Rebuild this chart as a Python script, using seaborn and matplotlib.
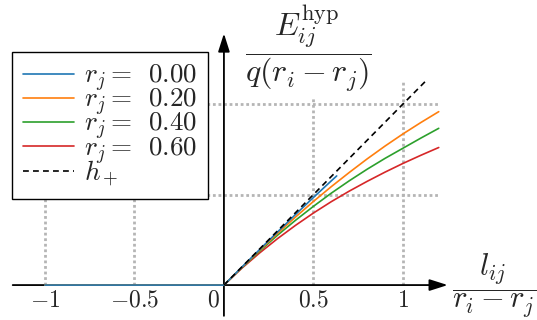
import numpy as np
import pandas as pd
import matplotlib
matplotlib.use("Agg")
import matplotlib.pyplot as plt
import seaborn as sns

# curve data: normalised energy vs normalised length, one curve per r_j
r_values = ["0.00", "0.20", "0.40", "0.60"]
x_blue = [-1.0, 0.0, 0.1, 0.2, 0.3, 0.4, 0.5, 0.6, 0.63]
y_blue = [0.0, 0.0, 0.099, 0.197, 0.294, 0.39, 0.484, 0.576, 0.603]
x_grid = [-1.0, 0.0, 0.1, 0.2, 0.3, 0.4, 0.5, 0.6, 0.7, 0.8, 0.9, 1.0, 1.1, 1.2]
y_orange = [0.0, 0.0, 0.097, 0.193, 0.286, 0.376, 0.462, 0.544, 0.622, 0.697,
            0.768, 0.835, 0.898, 0.958]
y_green = [0.0, 0.0, 0.096, 0.188, 0.276, 0.358, 0.435, 0.508, 0.576, 0.64,
           0.70, 0.756, 0.812, 0.866]
y_red = [0.0, 0.0, 0.093, 0.178, 0.257, 0.330, 0.398, 0.461, 0.519, 0.573,
         0.624, 0.672, 0.717, 0.760]
h_plus_x = [0.0, 1.13]
h_plus_y = [0.0, 1.13]

xtick_vals = [-1, -0.5, 0, 0.5, 1]
xtick_labels = [r"$-1$", r"$-0.5$", r"$0$", r"$0.5$", r"$1$"]

sns.set_style("white")
plt.rcParams["mathtext.fontset"] = "cm"
plt.rcParams["font.family"] = ["DejaVu Serif"]

fig = plt.figure(figsize=(5.37, 3.2), dpi=100)
ax = fig.add_axes([0, 0, 1, 1])
ax.set_xlim(-1.251, 1.749)
ax.set_ylim(-0.193, 1.575)
ax.axis("off")

# dotted guide lines
grid_kw = dict(color="#b5b5b5", linestyle=(0, (1, 1)), linewidth=2, zorder=1)
ax.hlines([0.5, 1.0], -1.15, 1.2, **grid_kw)
ax.vlines([-1, -0.5], 0, 0.6, **grid_kw)
ax.vlines([0.5], 0, 1.04, **grid_kw)
ax.vlines([1.0], 0, 1.12, **grid_kw)

# axes with arrows
arrow_kw = dict(arrowstyle="-|>,head_length=1.1,head_width=0.35", color="black", lw=1.3,
                shrinkA=0, shrinkB=0)
ax.annotate("", xy=(1.25, 0), xytext=(-1.18, 0), arrowprops=arrow_kw, zorder=2)
ax.annotate("", xy=(0, 1.39), xytext=(0, -0.17), arrowprops=arrow_kw, zorder=2)

colors = sns.color_palette("tab10", 4)
series = [(x_blue, y_blue), (x_grid, y_orange), (x_grid, y_green), (x_grid, y_red)]
for i in reversed(range(4)):
    xs, ys = series[i]
    sns.lineplot(x=xs, y=ys, color=colors[i], lw=1.2, ax=ax, zorder=3,
                 label=rf"$r_j =\ \, {r_values[i]}$")
sns.lineplot(x=h_plus_x, y=h_plus_y, color="black", lw=1.2, ax=ax, zorder=4,
             linestyle=(0, (3.5, 2.5)), label=r"$h_+$")

h, l = ax.get_legend_handles_labels()
order = [3, 2, 1, 0, 4]
leg = ax.legend([h[k] for k in order], [l[k] for k in order],
                loc="upper left", bbox_to_anchor=(0.022, 0.8375),
                fontsize=19.5, frameon=True, fancybox=False, framealpha=1,
                edgecolor="black", handlelength=1.9, labelspacing=-0.28,
                borderpad=0.4, handletextpad=0.35, borderaxespad=0)
leg.get_frame().set_linewidth(1.0)
leg.set_zorder(5)

for v, s in zip(xtick_vals, xtick_labels):
    xp = v if v != 0 else -0.06
    ax.text(xp, -0.083, s, ha="center", va="center", fontsize=17)

ax.text(0.47, 1.31, r"$\dfrac{E_{ij}^{\mathrm{hyp}}}{q(r_i - r_j)}$",
        ha="center", va="center", fontsize=23)
ax.text(1.508, 0.0, r"$\dfrac{l_{ij}}{r_i - r_j}$", ha="center", va="center",
        fontsize=22)

fig.savefig("out.png", dpi=100)
